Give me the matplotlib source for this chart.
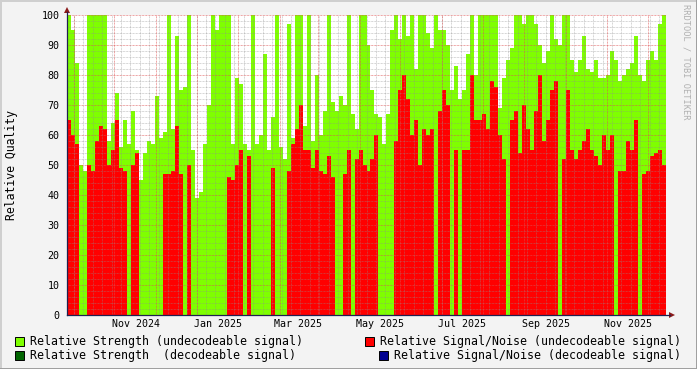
import numpy as np
import matplotlib
matplotlib.use('Agg')
import matplotlib.pyplot as plt
import matplotlib.dates as mdates
from matplotlib.patches import Rectangle, Polygon
from matplotlib.lines import Line2D
import datetime as dt

# time span of the rrd graph (about 3 days per sample)
start = dt.datetime(2024, 9, 11)
end = dt.datetime(2025, 11, 29)

# relative strength (undecodeable), percent
strength = [100, 95, 84, 50, 48, 100, 100, 100, 100, 100,
            58, 64, 74, 56, 65, 57, 68, 55, 45, 54,
            58, 57, 73, 59, 61, 100, 62, 93, 75, 76,
            100, 55, 39, 41, 57, 70, 100, 95, 100, 100,
            100, 57, 79, 77, 57, 55, 100, 57, 60, 87,
            55, 66, 100, 56, 52, 97, 59, 100, 100, 63,
            100, 58, 80, 60, 68, 100, 71, 68, 73, 70,
            100, 67, 62, 100, 100, 90, 75, 67, 66, 57,
            67, 95, 100, 92, 100, 93, 100, 82, 100, 100,
            94, 89, 100, 95, 95, 90, 75, 83, 72, 75,
            87, 100, 80, 100, 100, 100, 100, 100, 69, 79,
            85, 89, 100, 100, 97, 100, 100, 97, 90, 84,
            88, 100, 92, 90, 100, 100, 85, 81, 85, 93,
            82, 81, 85, 79, 79, 80, 88, 85, 78, 80,
            82, 84, 93, 80, 78, 85, 88, 85, 97, 100]

# relative signal/noise (undecodeable), percent, 0 = no value
snr = [65, 60, 57, 0, 0, 50, 48, 58, 63, 62,
       50, 55, 65, 49, 48, 0, 50, 54, 0, 0,
       0, 0, 0, 0, 47, 47, 48, 63, 47, 0,
       50, 0, 0, 0, 0, 0, 0, 0, 0, 0,
       46, 45, 50, 55, 0, 53, 0, 0, 0, 0,
       0, 49, 0, 0, 0, 48, 57, 62, 70, 55,
       55, 49, 55, 48, 47, 53, 46, 0, 0, 47,
       55, 0, 52, 55, 50, 48, 52, 60, 0, 0,
       0, 0, 58, 75, 80, 72, 60, 65, 50, 62,
       60, 62, 0, 68, 75, 70, 0, 55, 0, 55,
       55, 80, 65, 65, 67, 62, 78, 76, 60, 52,
       0, 65, 68, 54, 70, 62, 55, 68, 80, 58,
       65, 75, 78, 0, 52, 75, 55, 52, 55, 58,
       62, 55, 53, 50, 60, 55, 60, 0, 48, 48,
       58, 55, 65, 0, 47, 48, 53, 54, 55, 50]

month_labels = ['Nov 2024', 'Jan 2025', 'Mar 2025', 'May 2025',
                'Jul 2025', 'Sep 2025', 'Nov 2025']

W, H = 697, 369
def fx(px):
    return px / W
def fy(py):
    return 1 - py / H

fig = plt.figure(figsize=(W / 100, H / 100), dpi=100, facecolor='#F3F3F3')
ax = fig.add_axes([fx(67), fy(315), (666 - 67) / W, 300 / H])
ax.set_facecolor('white')

n = len(strength)
x0 = mdates.date2num(start)
x1 = mdates.date2num(end)
w = (x1 - x0) / n
xs = x0 + np.arange(n) * w

ax.bar(xs, strength, width=w, align='edge', color='#7FFF00', linewidth=0,
       antialiased=False, zorder=1)
ax.bar(xs, snr, width=w, align='edge', color='#FF0000', linewidth=0,
       antialiased=False, zorder=1)

ax.set_xlim(x0, x1)
ax.set_ylim(0, 100)

# rrdtool style dotted grid, drawn over the areas
dots = (0, (0.75, 0.75))
for v in range(2, 100, 2):
    if v % 10:
        ax.axhline(v, color='#8F8F8F', alpha=0.5, lw=0.7, ls=dots, zorder=2)
for v in range(10, 101, 10):
    ax.axhline(v, color='#DE5151', alpha=0.7, lw=0.7, ls=dots, zorder=2)

d = dt.datetime(2024, 9, 16)
while d < end:
    ax.axvline(mdates.date2num(d), color='#8F8F8F', alpha=0.5, lw=0.7, ls=dots, zorder=2)
    d += dt.timedelta(days=7)
for k in range(15):
    yr = 2024 + (8 + k) // 12
    mo = (8 + k) % 12 + 1
    d = dt.datetime(yr, mo, 16)
    if start < d < end:
        ax.axvline(mdates.date2num(d), color='#DE5151', alpha=0.7, lw=0.7, ls=dots, zorder=2)

for s in ax.spines.values():
    s.set_visible(False)

tick_dates = [dt.datetime(2024, 11, 1), dt.datetime(2025, 1, 1), dt.datetime(2025, 3, 1),
              dt.datetime(2025, 5, 1), dt.datetime(2025, 7, 1), dt.datetime(2025, 9, 1),
              dt.datetime(2025, 11, 1)]
ax.set_xticks([mdates.date2num(t) for t in tick_dates])
ax.set_xticklabels(month_labels)
ax.set_yticks(range(0, 101, 10))
ax.tick_params(axis='both', length=0, labelsize=7.2)
ax.tick_params(axis='x', pad=3)
ax.tick_params(axis='y', pad=5.5)
for lab in ax.get_xticklabels() + ax.get_yticklabels():
    lab.set_fontfamily('DejaVu Sans Mono')

# axes with arrows
axis_col = '#202050'
arrow_col = '#8B1A1A'
fig.add_artist(Line2D([fx(67), fx(670)], [fy(315), fy(315)], color=axis_col, lw=0.9))
fig.add_artist(Line2D([fx(67), fx(67)], [fy(315), fy(12)], color=axis_col, lw=0.9))
fig.add_artist(Polygon([[fx(669), fy(312)], [fx(675), fy(315)], [fx(669), fy(318)]],
                       closed=True, color=arrow_col, lw=0))
fig.add_artist(Polygon([[fx(64), fy(13)], [fx(67), fy(7)], [fx(70), fy(13)]],
                       closed=True, color=arrow_col, lw=0))

fig.text(fx(12), fy(165), 'Relative Quality', rotation=90, ha='center', va='center',
         fontsize=8.3, family='DejaVu Sans Mono')
fig.text(fx(686), fy(4), 'RRDTOOL / TOBI OETIKER', rotation=-90, ha='center', va='top',
         fontsize=6.2, family='DejaVu Sans Mono', color='#B0B0B0')

# legend
legend = [('#7FFF00', 15, 30, 341, 'Relative Strength (undecodeable signal)'),
          ('#006400', 15, 30, 355, 'Relative Strength  (decodeable signal)'),
          ('#FF0000', 365, 380, 341, 'Relative Signal/Noise (undecodeable signal)'),
          ('#000090', 379, 394, 355, 'Relative Signal/Noise (decodeable signal)')]
for col, bx, tx, ty, txt in legend:
    fig.add_artist(Rectangle((fx(bx), fy(ty + 4.5)), 9 / W, 9 / H, facecolor=col,
                             edgecolor='black', lw=0.7))
    fig.text(fx(tx), fy(ty), txt, ha='left', va='center', fontsize=8.4,
             family='DejaVu Sans Mono')

# shaded frame
fig.add_artist(Line2D([0, 1], [fy(0.5), fy(0.5)], color='#CFCFCF', lw=1.4))
fig.add_artist(Line2D([fx(0.5), fx(0.5)], [0, 1], color='#CFCFCF', lw=1.4))
fig.add_artist(Line2D([0, 1], [fy(368.5), fy(368.5)], color='#9E9E9E', lw=1.4))
fig.add_artist(Line2D([fx(696.5), fx(696.5)], [0, 1], color='#9E9E9E', lw=1.4))

fig.savefig('out.png', dpi=100, facecolor=fig.get_facecolor())
